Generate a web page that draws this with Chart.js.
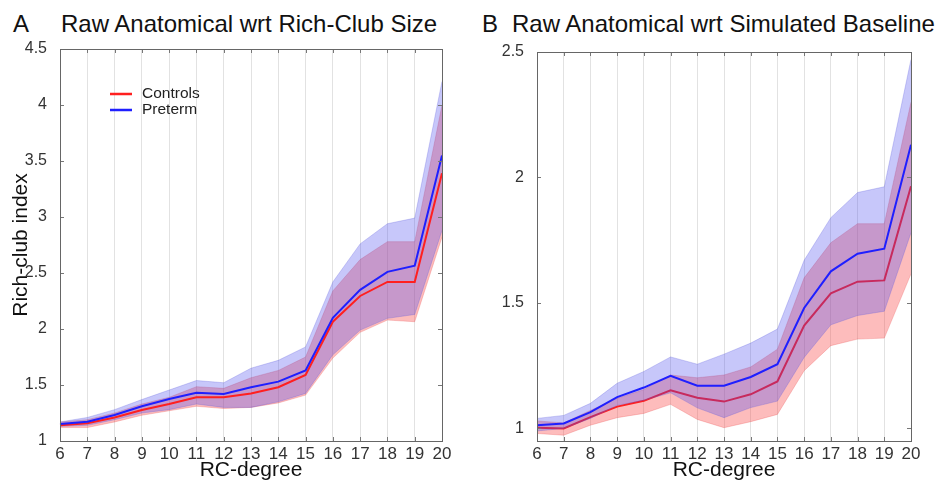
<!DOCTYPE html>
<html>
<head>
<meta charset="utf-8">
<script src="https://cdn.jsdelivr.net/npm/chart.js@4.4.1/dist/chart.umd.min.js"></script>
<style>
  body { margin: 0; background: #fff; width: 939px; height: 481px; position: relative; overflow: hidden; font-family: "Liberation Sans", Arial, sans-serif; }
  canvas { position: absolute; top: 0; }
  .ttl { position: absolute; top: 12px; font-size: 24px; line-height: 24px; color: #111; white-space: nowrap; }
</style>
</head>
<body>
<div class="ttl" style="left:13px">A</div>
<div class="ttl" style="left:61px">Raw Anatomical wrt Rich-Club Size</div>
<div class="ttl" style="left:482px">B</div>
<div class="ttl" style="left:512px">Raw Anatomical wrt Simulated Baseline</div>
<canvas id="chartA" width="470" height="481" style="left:0"></canvas>
<canvas id="chartB" width="469" height="481" style="left:470px"></canvas>
<script>
const rcDegree = ["6", "7", "8", "9", "10", "11", "12", "13", "14", "15", "16", "17", "18", "19", "20"];

// panel A - rich-club size
const controlsA   = [1.14, 1.158, 1.21, 1.277, 1.33, 1.39, 1.39, 1.425, 1.48, 1.59, 2.065, 2.295, 2.42, 2.42, 3.39];
const controlsAHi = [1.17, 1.19, 1.25, 1.33, 1.39, 1.485, 1.47, 1.565, 1.63, 1.75, 2.34, 2.62, 2.78, 2.78, 4.0];
const controlsALo = [1.12, 1.12, 1.17, 1.23, 1.27, 1.31, 1.29, 1.30, 1.34, 1.41, 1.74, 1.97, 2.08, 2.065, 2.82];
const pretermA    = [1.152, 1.172, 1.232, 1.31, 1.375, 1.43, 1.42, 1.48, 1.53, 1.63, 2.10, 2.35, 2.51, 2.565, 3.55];
const pretermAHi  = [1.17, 1.21, 1.28, 1.37, 1.455, 1.54, 1.52, 1.65, 1.72, 1.84, 2.42, 2.76, 2.94, 2.99, 4.21];
const pretermALo  = [1.13, 1.14, 1.19, 1.25, 1.28, 1.33, 1.30, 1.30, 1.35, 1.425, 1.77, 1.99, 2.095, 2.13, 2.88];

// panel B - simulated baseline
const controlsB   = [1.003, 1.0, 1.045, 1.087, 1.11, 1.152, 1.122, 1.107, 1.136, 1.187, 1.41, 1.538, 1.585, 1.59, 1.965];
const controlsBHi = [1.03, 1.022, 1.072, 1.12, 1.155, 1.213, 1.202, 1.213, 1.245, 1.316, 1.60, 1.74, 1.816, 1.816, 2.30];
const controlsBLo = [0.98, 0.973, 1.013, 1.043, 1.06, 1.096, 1.036, 1.003, 1.027, 1.056, 1.23, 1.33, 1.356, 1.36, 1.616];
const pretermB    = [1.013, 1.02, 1.065, 1.125, 1.163, 1.21, 1.17, 1.17, 1.205, 1.256, 1.48, 1.626, 1.696, 1.716, 2.13];
const pretermBHi  = [1.04, 1.052, 1.10, 1.18, 1.227, 1.285, 1.256, 1.296, 1.34, 1.396, 1.67, 1.84, 1.94, 1.963, 2.47];
const pretermBLo  = [0.99, 1.0, 1.04, 1.092, 1.112, 1.142, 1.082, 1.043, 1.083, 1.109, 1.283, 1.413, 1.45, 1.467, 1.78];

const yTicksA = [1, 1.5, 2, 2.5, 3, 3.5, 4, 4.5];
const yTicksB = [1, 1.5, 2, 2.5];

const RED = "#ff1f1f";
const BLUE = "#1f1fff";
const RED_FILL = "rgba(250, 80, 80, 0.38)";
const BLUE_FILL = "rgba(70, 70, 240, 0.30)";
const FONT = "'Liberation Sans', Arial, sans-serif";

Chart.defaults.font.family = FONT;
Chart.defaults.color = "#333";

function lineSet(label, data, color, order) {
  return { label: label, data: data, borderColor: color, borderWidth: 2, pointRadius: 0, fill: false, order: order, tension: 0 };
}
function bandSet(data, fillTo, color, edge, order) {
  return { label: "", data: data, borderColor: edge, borderWidth: 0.8, backgroundColor: color, pointRadius: 0, fill: fillTo, order: order, tension: 0 };
}

// box around the plot with small inward ticks, like the original
const boxPlugin = {
  id: "box",
  afterDatasetsDraw(chart) {
    const { ctx, chartArea: a, scales } = chart;
    ctx.save();
    ctx.strokeStyle = "#777";
    ctx.lineWidth = 1;
    ctx.beginPath();
    scales.x.ticks.forEach((t, i) => {
      const x = Math.round(scales.x.getPixelForTick(i)) + 0.5;
      ctx.moveTo(x, a.top); ctx.lineTo(x, a.top + 4);
      ctx.moveTo(x, a.bottom); ctx.lineTo(x, a.bottom - 4);
    });
    scales.y.ticks.forEach(t => {
      const y = Math.round(scales.y.getPixelForValue(t.value)) + 0.5;
      ctx.moveTo(a.left, y); ctx.lineTo(a.left + 4, y);
      ctx.moveTo(a.right, y); ctx.lineTo(a.right - 4, y);
    });
    ctx.stroke();
    ctx.strokeStyle = "#666";
    ctx.strokeRect(Math.round(a.left) + 0.5, Math.round(a.top) + 0.5, Math.round(a.right - a.left), Math.round(a.bottom - a.top));
    ctx.restore();
  }
};

// legend inside panel A
const insideLegend = {
  id: "insideLegend",
  afterDraw(chart, args, opts) {
    if (!opts.show) return;
    const { ctx, chartArea: a } = chart;
    const items = chart.data.datasets.filter(d => d.label);
    items.sort((p, q) => (p.label === "Controls" ? -1 : 1));
    ctx.save();
    ctx.font = "15.5px " + FONT;
    ctx.textBaseline = "middle";
    items.forEach((d, i) => {
      const y = a.top + 45 + i * 16;
      ctx.strokeStyle = d.borderColor;
      ctx.lineWidth = 2.5;
      ctx.beginPath();
      ctx.moveTo(a.left + 50, y); ctx.lineTo(a.left + 72, y);
      ctx.stroke();
      ctx.fillStyle = "#222";
      ctx.fillText(d.label, a.left + 82, y);
    });
    ctx.restore();
  }
};

function makeChart(id, datasets, yMin, yMax, yTicks, yTitle, leftWidth, topPad, legendOn) {
  return new Chart(document.getElementById(id), {
    type: "line",
    data: { labels: rcDegree, datasets: datasets },
    options: {
      responsive: false,
      animation: false,
      layout: { padding: { top: topPad, right: 28, left: 0, bottom: 0 } },
      plugins: {
        legend: { display: false },
        tooltip: { enabled: false },
        insideLegend: { show: legendOn }
      },
      scales: {
        x: {
          offset: false,
          grid: { color: "#e2e2e2", drawTicks: false },
          border: { display: false },
          ticks: { font: { size: 17 }, color: "#333", padding: 3, maxRotation: 0, autoSkip: false },
          title: { display: true, text: "RC-degree", font: { size: 21 }, color: "#111", padding: { top: 0, bottom: -1.5 } },
          afterFit: function (s) { s.height = 40; }
        },
        y: {
          min: yMin,
          max: yMax,
          grid: { display: false },
          border: { display: false },
          ticks: { font: { size: 16 }, color: "#333", padding: 5, callback: v => String(v) },
          afterBuildTicks: function (s) { s.ticks = yTicks.map(v => ({ value: v })); },
          title: { display: !!yTitle, text: yTitle, font: { size: 21 }, color: "#111", padding: { top: 9, bottom: 0 } },
          afterFit: function (s) { s.width = leftWidth; }
        }
      }
    },
    plugins: [boxPlugin, insideLegend]
  });
}

// panel A: bands below, both lines on top
makeChart("chartA", [
  lineSet("Preterm", pretermA, BLUE, 0),
  lineSet("Controls", controlsA, RED, 1),
  bandSet(pretermAHi, 3, BLUE_FILL, "rgba(90,90,220,0.35)", 2),
  bandSet(pretermALo, false, BLUE_FILL, "rgba(90,90,220,0.35)", 3),
  bandSet(controlsAHi, 5, RED_FILL, "rgba(230,80,80,0.35)", 4),
  bandSet(controlsALo, false, RED_FILL, "rgba(230,80,80,0.35)", 5)
], 1, 4.5, yTicksA, "Rich-club index", 60, 49, true);

// panel B: preterm band covers the controls line
makeChart("chartB", [
  lineSet("Preterm", pretermB, BLUE, 0),
  bandSet(pretermBHi, 2, BLUE_FILL, "rgba(90,90,220,0.35)", 1),
  bandSet(pretermBLo, false, BLUE_FILL, "rgba(90,90,220,0.35)", 2),
  lineSet("Controls", controlsB, RED, 3),
  bandSet(controlsBHi, 5, RED_FILL, "rgba(230,80,80,0.35)", 4),
  bandSet(controlsBLo, false, RED_FILL, "rgba(230,80,80,0.35)", 5)
], 0.95, 2.5, yTicksB, "", 67, 52, false);
</script>
</body>
</html>
